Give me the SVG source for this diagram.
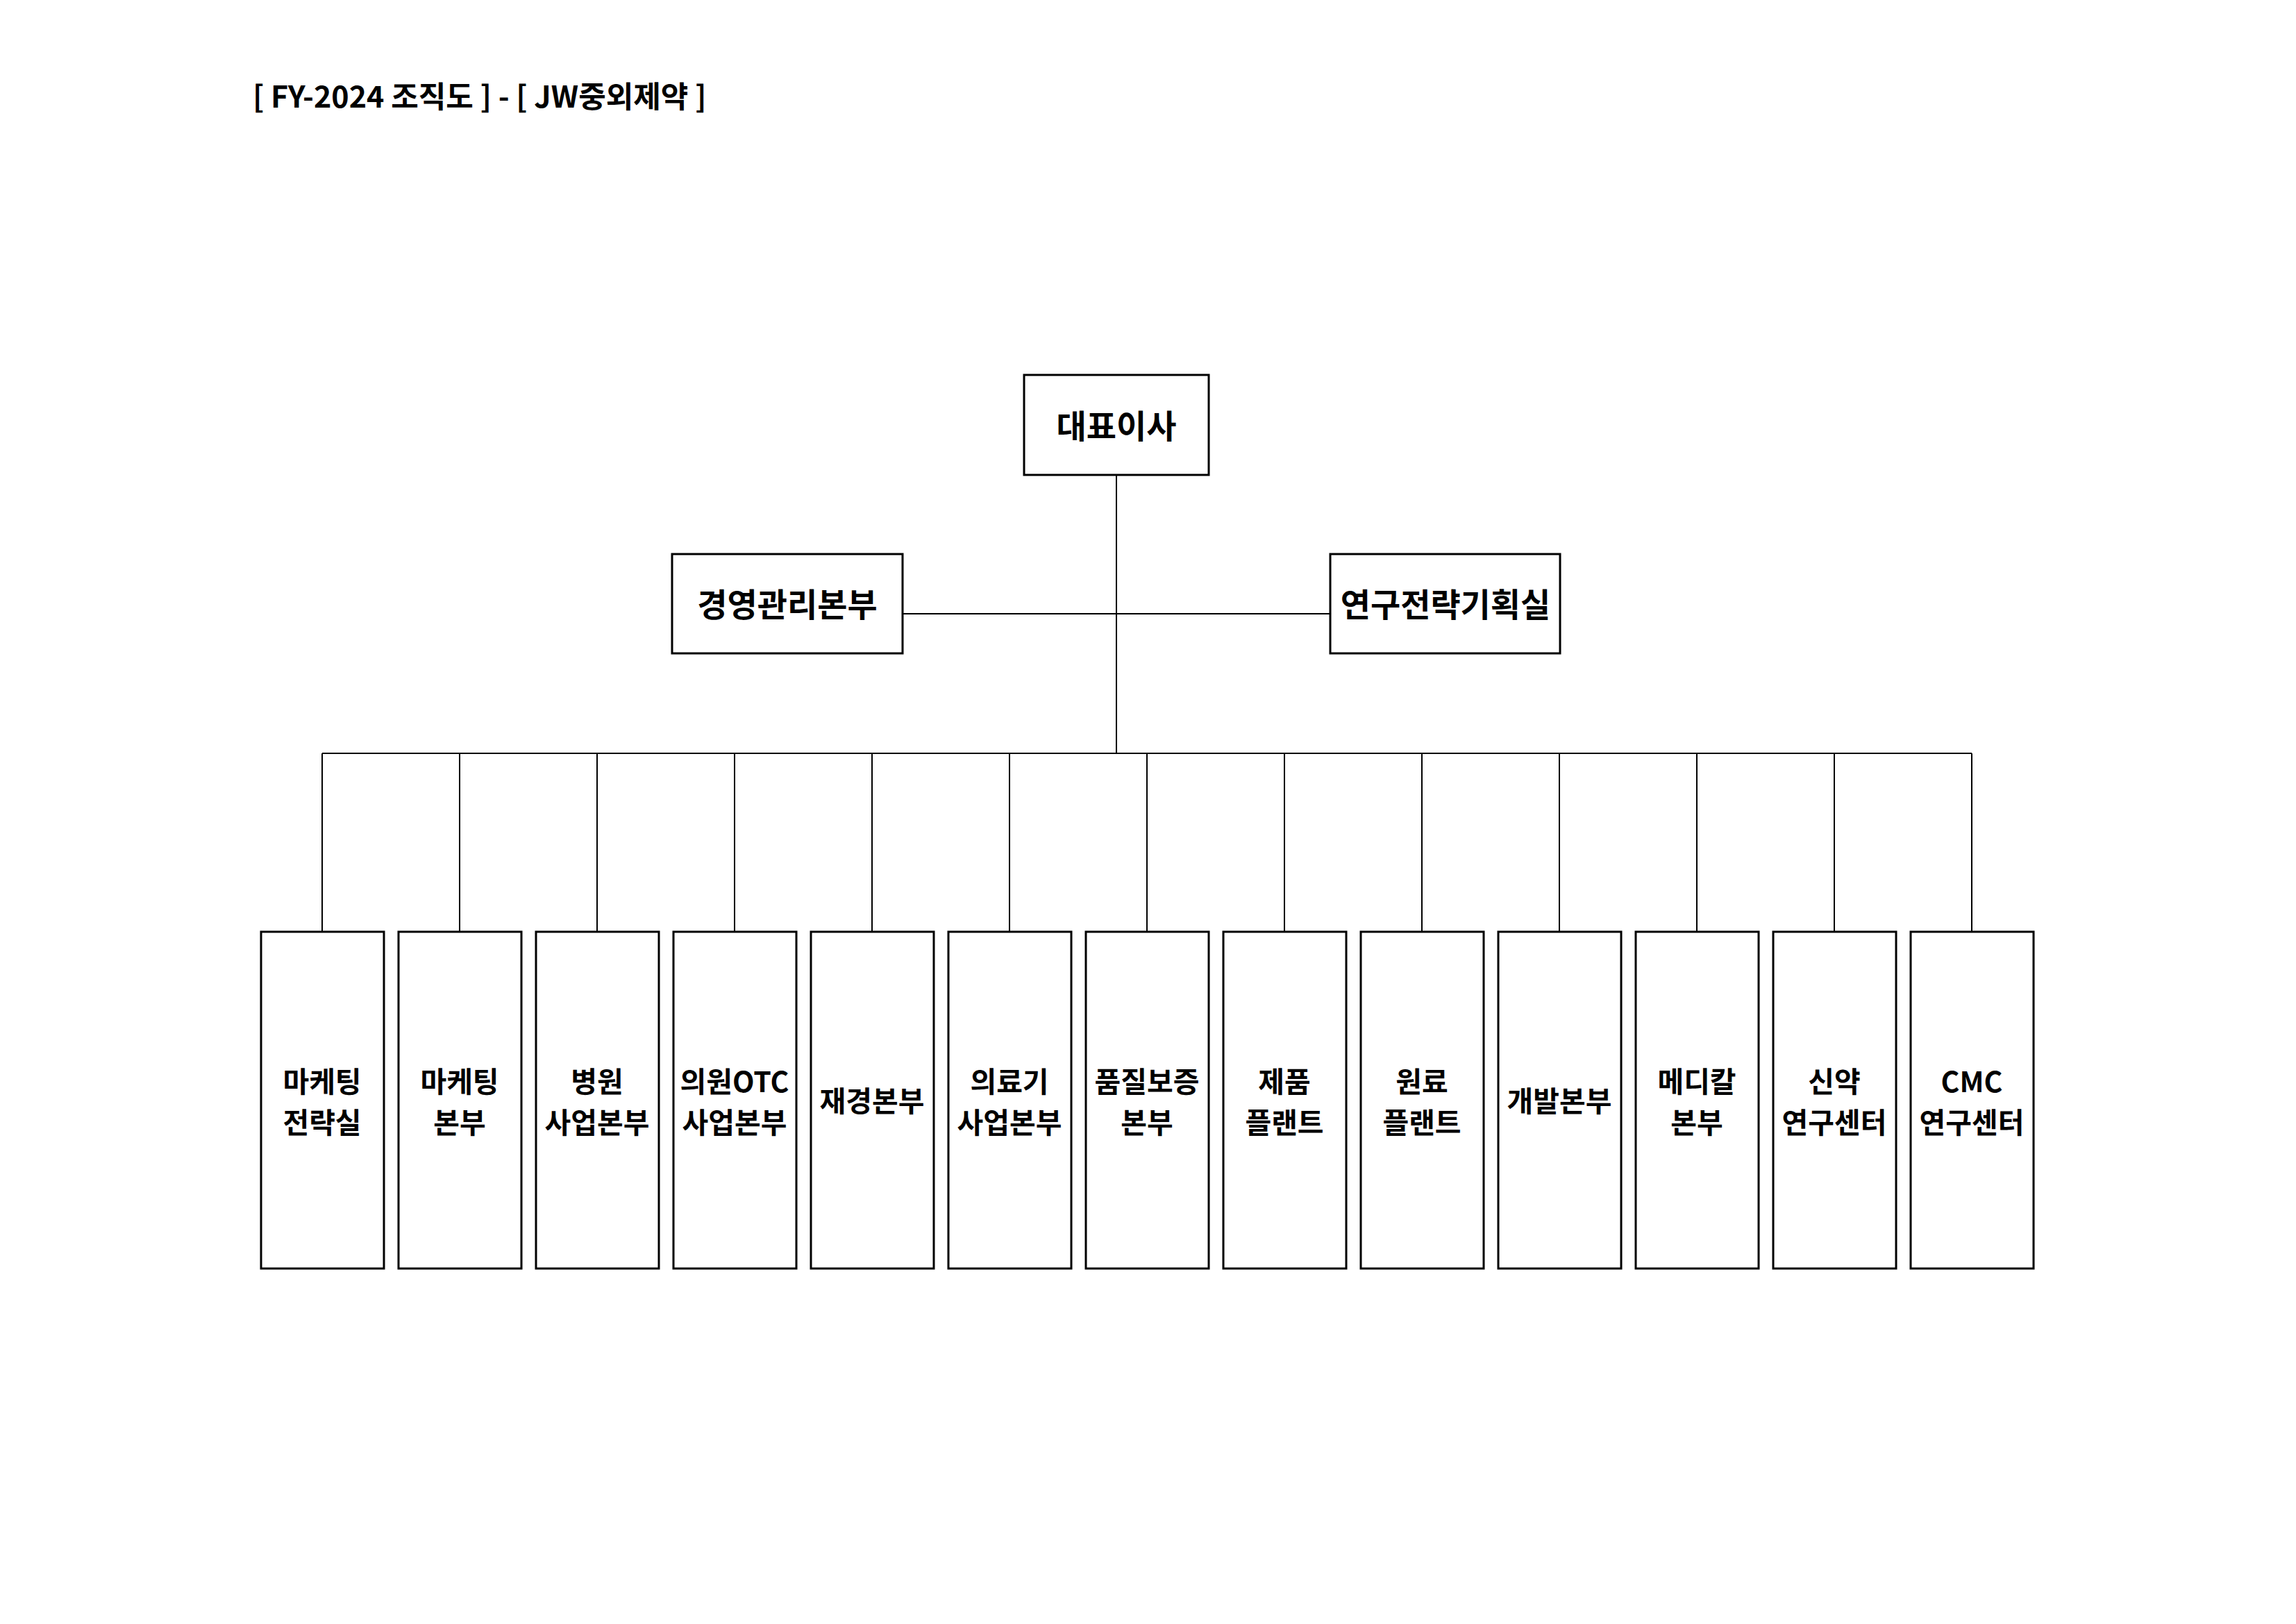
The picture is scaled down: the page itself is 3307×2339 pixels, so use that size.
<svg xmlns="http://www.w3.org/2000/svg" width="3307" height="2339" viewBox="0 0 3307 2339">
<style>
.b{fill:#fff;stroke:#000;stroke-width:3}
.c{fill:none;stroke:#000;stroke-width:2}
text{font-family:"Noto Sans CJK KR","Liberation Sans",sans-serif;font-weight:bold;fill:#000;text-anchor:middle;dominant-baseline:central}
.t{font-size:47px}
.s{font-size:41px}
</style>
<rect width="3307" height="2339" fill="#fff"/>
<text x="364" y="136" style="font-size:43px;text-anchor:start">[ FY-2024 조직도 ] - [ JW중외제약 ]</text>
<g id="connectors">
<path class="c" d="M1608 684V1085M1300 884H1916M464 1085H2840"/>
<path class="c" d="M464 1085V1342M662 1085V1342M860 1085V1342M1058 1085V1342M1256 1085V1342M1454 1085V1342M1652 1085V1342M1850 1085V1342M2048 1085V1342M2246 1085V1342M2444 1085V1342M2642 1085V1342M2840 1085V1342"/>
</g>
<g id="ceo"><rect class="b" x="1475" y="540" width="266" height="144"/><text class="t" x="1608" y="610">대표이사</text></g>
<g id="mgmt"><rect class="b" x="968" y="798" width="332" height="143"/><text class="t" x="1134" y="867">경영관리본부</text></g>
<g id="rnd"><rect class="b" x="1916" y="798" width="331" height="143"/><text class="t" x="2082" y="867">연구전략기획실</text></g>
<g id="n1"><rect class="b" x="376" y="1342" width="177" height="485"/><text class="s" x="464" y="1555">마케팅</text><text class="s" x="464" y="1614">전략실</text></g>
<g id="n2"><rect class="b" x="574" y="1342" width="177" height="485"/><text class="s" x="662" y="1555">마케팅</text><text class="s" x="662" y="1614">본부</text></g>
<g id="n3"><rect class="b" x="772" y="1342" width="177" height="485"/><text class="s" x="860" y="1555">병원</text><text class="s" x="860" y="1614">사업본부</text></g>
<g id="n4"><rect class="b" x="970" y="1342" width="177" height="485"/><text class="s" x="1058" y="1555">의원OTC</text><text class="s" x="1058" y="1614">사업본부</text></g>
<g id="n5"><rect class="b" x="1168" y="1342" width="177" height="485"/><text class="s" x="1256" y="1583">재경본부</text></g>
<g id="n6"><rect class="b" x="1366" y="1342" width="177" height="485"/><text class="s" x="1454" y="1555">의료기</text><text class="s" x="1454" y="1614">사업본부</text></g>
<g id="n7"><rect class="b" x="1564" y="1342" width="177" height="485"/><text class="s" x="1652" y="1555">품질보증</text><text class="s" x="1652" y="1614">본부</text></g>
<g id="n8"><rect class="b" x="1762" y="1342" width="177" height="485"/><text class="s" x="1850" y="1555">제품</text><text class="s" x="1850" y="1614">플랜트</text></g>
<g id="n9"><rect class="b" x="1960" y="1342" width="177" height="485"/><text class="s" x="2048" y="1555">원료</text><text class="s" x="2048" y="1614">플랜트</text></g>
<g id="n10"><rect class="b" x="2158" y="1342" width="177" height="485"/><text class="s" x="2246" y="1583">개발본부</text></g>
<g id="n11"><rect class="b" x="2356" y="1342" width="177" height="485"/><text class="s" x="2444" y="1555">메디칼</text><text class="s" x="2444" y="1614">본부</text></g>
<g id="n12"><rect class="b" x="2554" y="1342" width="177" height="485"/><text class="s" x="2642" y="1555">신약</text><text class="s" x="2642" y="1614">연구센터</text></g>
<g id="n13"><rect class="b" x="2752" y="1342" width="177" height="485"/><text class="s" x="2840" y="1555">CMC</text><text class="s" x="2840" y="1614">연구센터</text></g>
</svg>
